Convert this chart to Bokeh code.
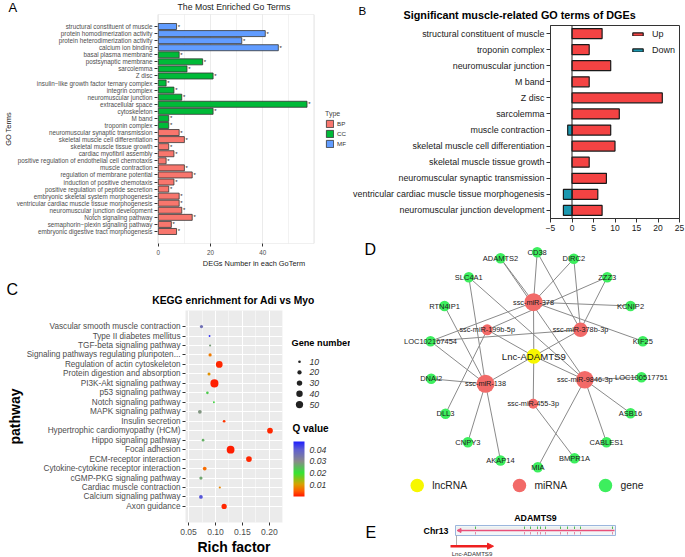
import numpy as np
from bokeh.plotting import figure
from bokeh.models import (ColumnDataSource, FactorRange, Range1d, Legend, LegendItem,
                          ColorBar, LinearColorMapper, FixedTicker, Span, Arrow, NormalHead,
                          PrintfTickFormatter, BoxAnnotation)
from bokeh.layouts import row, column
from bokeh.core.properties import value
from bokeh.embed import file_html
from bokeh.resources import INLINE

FONT = "Liberation Sans"

# ---------------- Panel A data ----------------
go_terms = [
    "structural constituent of muscle", "protein homodimerization activity",
    "protein heterodimerization activity", "calcium ion binding", "basal plasma membrane",
    "postsynaptic membrane", "sarcolemma", "Z disc",
    "insulin\u2212like growth factor ternary complex", "integrin complex",
    "neuromuscular junction", "extracellular space", "cytoskeleton", "M band",
    "troponin complex", "neuromuscular synaptic transmission",
    "skeletal muscle cell differentiation", "skeletal muscle tissue growth",
    "cardiac myofibril assembly", "positive regulation of endothelial cell chemotaxis",
    "muscle contraction", "regulation of membrane potential",
    "induction of positive chemotaxis", "positive regulation of peptide secretion",
    "embryonic skeletal system morphogenesis",
    "ventricular cardiac muscle tissue morphogenesis",
    "neuromuscular junction development", "Notch signaling pathway",
    "semaphorin\u2212plexin signaling pathway", "embryonic digestive tract morphogenesis"]
go_counts = [7, 41, 32, 46, 8, 17, 11, 21, 3, 6, 9, 57, 21, 4, 4,
             8, 10, 4, 6, 3, 10, 13, 6, 4, 8, 8, 9, 13, 5, 7]
go_types = ["MF", "MF", "MF", "MF",
            "CC", "CC", "CC", "CC", "CC", "CC", "CC", "CC", "CC", "CC", "CC",
            "BP", "BP", "BP", "BP", "BP", "BP", "BP", "BP", "BP", "BP", "BP", "BP", "BP", "BP", "BP"]
type_order = ["BP", "CC", "MF"]
type_colors = ["#F8766D", "#00BA38", "#619CFF"]
a_ticks = [0, 20, 40]

# ---------------- Panel B data ----------------
b_terms = ["structural constituent of muscle", "troponin complex", "neuromuscular junction",
           "M band", "Z disc", "sarcolemma", "muscle contraction",
           "skeletal muscle cell differentiation", "skeletal muscle tissue growth",
           "neuromuscular synaptic transmission",
           "ventricular cardiac muscle tissue morphogenesis",
           "neuromuscular junction development"]
b_up = [7, 4, 9, 4, 21, 11, 9, 10, 4, 8, 6, 7]
b_down = [0, 0, 0, 0, 0, 0, -1, 0, 0, 0, -2, -2]
b_ticks = [-5, 0, 5, 10, 15, 20, 25]

# ---------------- Panel C data ----------------
kegg_paths = ["Vascular smooth muscle contraction", "Type II diabetes mellitus",
              "TGF-beta signaling pathway", "Signaling pathways regulating pluripoten...",
              "Regulation of actin cytoskeleton", "Protein digestion and absorption",
              "PI3K-Akt signaling pathway", "p53 signaling pathway", "Notch signaling pathway",
              "MAPK signaling pathway", "Insulin secretion",
              "Hypertrophic cardiomyopathy (HCM)", "Hippo signaling pathway", "Focal adhesion",
              "ECM-receptor interaction", "Cytokine-cytokine receptor interaction",
              "cGMP-PKG signaling pathway", "Cardiac muscle contraction",
              "Calcium signaling pathway", "Axon guidance"]
kegg_rich = [0.074, 0.089, 0.090, 0.090, 0.107, 0.088, 0.098, 0.085, 0.097, 0.071,
             0.116, 0.201, 0.077, 0.128, 0.162, 0.080, 0.073, 0.108, 0.073, 0.116]
kegg_genes = [13, 7, 8, 13, 43, 12, 60, 10, 7, 16, 10, 32, 10, 57, 32, 16, 13, 8, 16, 28]
kegg_q = [0.036, 0.045, 0.028, 0.007, 0.001, 0.009, 0.0005, 0.023, 0.022, 0.029,
          0.002, 0.001, 0.026, 0.0003, 0.001, 0.006, 0.027, 0.008, 0.041, 0.001]
gene_legend = [10, 20, 30, 40, 50]
q_ticks = [0.01, 0.02, 0.03, 0.04]
rich_ticks = [0.05, 0.10, 0.15, 0.20]

# ---------------- Panel D data ----------------
node_names = ["ADAMTS2", "CD38", "DIRC2", "SLC4A1", "ZZZ3", "RTN4IP1", "KCNIP2",
              "LOC102167454", "KIF25", "DNAI2", "LOC100517751", "DLL3", "ASB16",
              "CNPY3", "CABLES1", "AKAP14", "BMPR1A", "MIA",
              "ssc-miR-378", "ssc-miR-199b-5p", "ssc-miR-378b-3p", "ssc-miR-138",
              "ssc-miR-9846-3p", "ssc-miR-455-3p", "Lnc-ADAMTS9"]
node_types = ["gene"] * 18 + ["miRNA"] * 6 + ["lncRNA"]
node_x = [500, 536.7, 573.3, 468.3, 606.7, 444, 630, 430, 642.3, 430.7, 641, 445, 630,
          467.3, 606, 500, 574, 537.3,
          533, 486.7, 580, 485, 584.3, 532.7, 533.3]
node_y = [257.7, 251.7, 258.3, 276.7, 276.7, 305.5, 305.5, 340.7, 340.7, 378.3, 376.7,
          413.3, 412.7, 441.7, 441.7, 460, 457.7, 466.7,
          301.7, 329.3, 329.3, 383.3, 379.3, 403.3, 355.7]
node_weight = [10.5] * 18 + [18, 11, 14.5, 18, 17.5, 10, 15]
edge_from = ["Lnc-ADAMTS9"] * 6 + ["ssc-miR-378"] * 6 + ["ssc-miR-378b-3p"] * 4 + \
            ["ssc-miR-199b-5p"] * 2 + ["ssc-miR-138"] * 6 + ["ssc-miR-9846-3p"] * 6 + \
            ["ssc-miR-455-3p"]
edge_to = ["ssc-miR-378", "ssc-miR-199b-5p", "ssc-miR-378b-3p", "ssc-miR-138",
           "ssc-miR-9846-3p", "ssc-miR-455-3p",
           "ADAMTS2", "CD38", "DIRC2", "KCNIP2", "KIF25", "LOC102167454",
           "CD38", "DIRC2", "ZZZ3", "LOC102167454",
           "ZZZ3", "DLL3",
           "SLC4A1", "RTN4IP1", "LOC102167454", "DNAI2", "CNPY3", "AKAP14",
           "ADAMTS2", "SLC4A1", "LOC100517751", "ASB16", "CABLES1", "MIA",
           "BMPR1A"]
net_types = ["lncRNA", "miRNA", "gene"]
net_colors = ["#F7F700", "#F26A68", "#3DEE5E"]

# ---------------- Panel E data ----------------
gene_start, gene_end = 0, 160
exon_pos = [20, 69, 75, 82, 85, 90, 105, 112, 119, 125, 157]
lnc_start, lnc_end = -5, 38


def blank_fig(w, h, xr, yr):
    p = figure(width=w, height=h, output_backend="svg", toolbar_location=None,
               x_range=Range1d(*xr), y_range=Range1d(*yr),
               x_axis_location=None, y_axis_location=None, min_border=0)
    p.grid.visible = False
    p.outline_line_color = None
    return p


def put_text(p, x, y, t, size, style="normal", align="left", baseline="middle",
             color="#1a1a1a"):
    p.text(x=[x], y=[y], text=[t], text_font=value(FONT), text_font_size=size,
           text_font_style=style, text_align=align, text_baseline=baseline,
           text_color=color)


def style_axis(ax, label_size, label_color="#4D4D4D"):
    ax.major_label_text_font = FONT
    ax.major_label_text_font_size = label_size
    ax.major_label_text_color = label_color
    ax.axis_label_text_font = FONT
    ax.axis_label_text_font_style = "normal"
    ax.minor_tick_line_color = None
    ax.major_tick_in = 0


# ================= Panel A =================
hA = blank_fig(350, 14, (0, 350), (14, 0))
put_text(hA, 8, 14, "A", "13px", baseline="bottom", color="#000000")
put_text(hA, 233.5, 6.5, "The Most Enriched Go Terms", "8.7px", align="center")

srcA = ColumnDataSource(dict(term=go_terms, count=go_counts, type=go_types,
                             color=[type_colors[type_order.index(t)] for t in go_types]))
a_data_end = 59.7
pA = figure(width=350, height=262, output_backend="svg", toolbar_location=None,
            y_range=FactorRange(factors=go_terms[::-1], range_padding=1.2,
                                range_padding_units="absolute"),
            x_range=Range1d(-0.3, 73.66),
            min_border_left=154, min_border_right=0, min_border_top=0, min_border_bottom=33)
rA = pA.hbar(y="term", left=0, right="count", height=0.85, fill_color="color",
             line_color="#333333", line_width=0.8, source=srcA)
pA.text(x="count", y="term", text=value("*"), x_offset=1.2, text_font=value(FONT),
        text_font_size="6px", text_baseline="middle", text_align="left",
        text_color="#222222", source=srcA)
pA.xaxis.ticker = FixedTicker(ticks=a_ticks, minor_ticks=[10, 30, 50])
pA.xaxis.bounds = (-0.3, a_data_end)
pA.xaxis.axis_label = "DEGs Number in each GoTerm"
pA.yaxis.axis_label = "GO Terms"
for ax in (pA.xaxis[0], pA.yaxis[0]):
    style_axis(ax, "6.3px")
    ax.axis_line_color = None
    ax.major_tick_line_color = "#333333"
    ax.major_tick_out = 3
    ax.major_label_standoff = 2
    ax.axis_label_standoff = 1
    ax.axis_label_text_font_size = "7.4px"
    ax.axis_label_text_color = "#1a1a1a"
pA.xgrid.grid_line_color = "#EBEBEB"
pA.xgrid.minor_grid_line_color = "#F2F2F2"
pA.ygrid.visible = False
pA.outline_line_color = None
pA.add_layout(BoxAnnotation(left=-0.3, right=a_data_end, fill_alpha=0, fill_color=None,
                            line_color="#9A9A9A", line_width=1))
legA = Legend(items=[LegendItem(label=t, renderers=[rA], index=go_types.index(t))
                     for t in type_order],
              location=(168, 95), title="Type", title_text_font=FONT,
              title_text_font_size="7px", title_text_font_style="normal", title_standoff=2,
              label_text_font=FONT, label_text_font_size="6.2px", label_text_color="#333333",
              glyph_width=9, glyph_height=9, label_height=9, spacing=1, padding=0, margin=0,
              label_standoff=3, background_fill_alpha=0, border_line_alpha=0)
pA.add_layout(legA, "center")

# ================= Panel C =================
hC = blank_fig(350, 34, (0, 350), (310, 276))
put_text(hC, 6, 289.3, "C", "16px", baseline="alphabetic", color="#000000")
put_text(hC, 233, 300, "KEGG enrichment for Adi vs Myo", "10.3px", style="bold",
         align="center", color="#000000")


def q_gradient(stops, n=256):
    pos = np.array([s[0] for s in stops])
    rgb = np.array([[int(s[1][i:i + 2], 16) for i in (1, 3, 5)] for s in stops], float)
    out = []
    for t in np.linspace(0, 1, n):
        c = [np.interp(t, pos, rgb[:, k]) for k in range(3)]
        out.append("#%02x%02x%02x" % tuple(int(round(v)) for v in c))
    return out


q_palette = q_gradient([(0.0, "#FF1A00"), (0.1, "#FF5E00"), (0.22, "#D9A200"),
                        (0.43, "#33E533"), (0.64, "#8A8A8A"), (0.85, "#6060D0"),
                        (1.0, "#1F1FFF")])
q_mapper = LinearColorMapper(palette=q_palette, low=0.0, high=0.047)


def dot_diam(n):
    return float(np.sqrt(max(1.15 * n - 4.5, 2.0)))


srcC = ColumnDataSource(dict(path=kegg_paths, rich=kegg_rich, q=kegg_q,
                             size=[dot_diam(g) for g in kegg_genes]))
pCp = figure(width=290, height=247, output_backend="svg", toolbar_location=None,
             y_range=FactorRange(factors=kegg_paths[::-1], range_padding=1.2,
                                 range_padding_units="absolute"),
             x_range=Range1d(0.0444, 0.2242),
             min_border_left=185, min_border_right=8, min_border_top=0, min_border_bottom=33,
             background_fill_color="#EBEBEB")
pCp.scatter(x="rich", y="path", size="size", fill_color={"field": "q", "transform": q_mapper},
            line_color=None, source=srcC)
pCp.xaxis.ticker = FixedTicker(ticks=rich_ticks, minor_ticks=[0.075, 0.125, 0.175, 0.225])
pCp.xaxis.formatter = PrintfTickFormatter(format="%.2f")
pCp.xaxis.axis_label = "Rich factor"
pCp.yaxis.axis_label = "pathway"
for ax, sz in ((pCp.xaxis[0], "8.6px"), (pCp.yaxis[0], "8.2px")):
    style_axis(ax, sz)
    ax.axis_line_color = None
    ax.major_tick_line_color = "#333333"
    ax.major_tick_out = 3
    ax.major_label_standoff = 2
    ax.axis_label_standoff = 1
    ax.axis_label_text_font_size = "14px"
    ax.axis_label_text_font_style = "bold"
    ax.axis_label_text_color = "#000000"
pCp.grid.grid_line_color = "white"
pCp.xgrid.minor_grid_line_color = "white"
pCp.xgrid.minor_grid_line_width = 0.5
pCp.outline_line_color = None

pCl = figure(width=60, height=247, output_backend="svg", toolbar_location=None,
             x_range=Range1d(290, 350), y_range=Range1d(524, 310),
             x_axis_location=None, y_axis_location=None,
             min_border_left=0, min_border_right=0, min_border_top=0, min_border_bottom=33)
pCl.grid.visible = False
pCl.outline_line_color = None
put_text(pCl, 291, 342.5, "Gene number", "9.2px", style="bold", color="#000000")
leg_y = [361.7 + 10.8 * i for i in range(len(gene_legend))]
pCl.scatter(x=[299] * len(gene_legend), y=leg_y, size=[dot_diam(n) for n in gene_legend],
            fill_color="#222222", line_color=None)
pCl.text(x=[309] * len(gene_legend), y=leg_y, text=[str(n) for n in gene_legend],
         text_font=value(FONT), text_font_size="8.7px", text_font_style="italic",
         text_baseline="middle", text_color="#333333")
put_text(pCl, 292, 429, "Q value", "10px", style="bold", color="#000000")
cb = ColorBar(color_mapper=q_mapper, ticker=FixedTicker(ticks=q_ticks),
              formatter=PrintfTickFormatter(format="%.2f"), width=11, height=55,
              location=(3, 26), padding=0,
              major_label_text_font=FONT, major_label_text_font_size="8.6px",
              major_label_text_font_style="italic", major_label_text_color="#333333",
              major_tick_line_color=None, minor_tick_line_color=None, bar_line_color=None,
              label_standoff=5, background_fill_alpha=0, border_line_color=None)
pCl.add_layout(cb, "center")

# ================= Panel B =================
hB = blank_fig(335, 25, (350, 685), (25, 0))
put_text(hB, 358, 10.4, "B", "11.6px", baseline="alphabetic", color="#000000")
put_text(hB, 403, 14, "Significant muscle-related GO terms of DGEs", "10.8px", style="bold",
         color="#000000")

pB = figure(width=335, height=211, output_backend="svg", toolbar_location=None,
            y_range=FactorRange(factors=b_terms[::-1]), x_range=Range1d(-5, 25),
            min_border_left=200, min_border_right=6, min_border_top=0, min_border_bottom=18)
r_up = pB.hbar(y=b_terms, left=0, right=b_up, height=0.62, fill_color="#F44343",
               line_color="#1a1a1a", line_width=1.2)
down_terms = [t for t, d in zip(b_terms, b_down) if d != 0]
down_vals = [d for d in b_down if d != 0]
r_dn = pB.hbar(y=down_terms, left=0, right=down_vals, height=0.62, fill_color="#1B98B0",
               line_color="#1a1a1a", line_width=1.2)
pB.add_layout(Span(location=0, dimension="height", line_color="#222222", line_width=1))
pB.xaxis.ticker = FixedTicker(ticks=b_ticks)
for ax, sz in ((pB.xaxis[0], "8.5px"), (pB.yaxis[0], "8.9px")):
    style_axis(ax, sz, "#1a1a1a")
    ax.axis_line_color = "#333333"
    ax.major_tick_line_color = "#333333"
    ax.major_tick_out = 4
    ax.major_label_standoff = 2
pB.grid.visible = False
pB.outline_line_color = "#333333"
legB = Legend(items=[LegendItem(label="Up", renderers=[r_up]),
                     LegendItem(label="Down", renderers=[r_dn])],
              location=(81, 162), label_text_font=FONT, label_text_font_size="9px",
              label_text_color="#1a1a1a", glyph_width=13, glyph_height=4, label_height=12,
              spacing=4, padding=0, margin=0, label_standoff=8,
              background_fill_alpha=0, border_line_alpha=0)
pB.add_layout(legB, "center")

# ================= Panel D =================
idx = {n: i for i, n in enumerate(node_names)}
pD = blank_fig(335, 269, (350, 685), (505, 236))
pD.segment(x0=[node_x[idx[a]] for a in edge_from], y0=[node_y[idx[a]] for a in edge_from],
           x1=[node_x[idx[b]] for b in edge_to], y1=[node_y[idx[b]] for b in edge_to],
           line_color="#8A8A8A", line_width=1)
srcD = ColumnDataSource(dict(x=node_x, y=node_y, name=node_names, size=node_weight,
                             color=[net_colors[net_types.index(t)] for t in node_types],
                             fs=[{"gene": "7.5px", "miRNA": "7.3px", "lncRNA": "9.6px"}[t]
                                 for t in node_types]))
pD.scatter(x="x", y="y", size="size", fill_color="color", line_color=None, source=srcD)
pD.text(x="x", y="y", text="name", text_font=value(FONT), text_font_size="fs",
        text_align="center", text_baseline="middle", text_color="#1a1a1a", source=srcD)
leg_x = [416.7, 519, 605]
pD.scatter(x=leg_x, y=[485] * 3, size=13.5, fill_color=net_colors, line_color=None)
pD.text(x=[v + 15 for v in leg_x], y=[485] * 3, text=net_types, text_font=value(FONT),
        text_font_size="10.3px", text_align="left", text_baseline="middle",
        text_color="#1a1a1a")
put_text(pD, 364, 248.5, "D", "16px", baseline="alphabetic", color="#000000")

# ================= Panel E =================
pE = blank_fig(335, 52, (-105, 230), (52, 0))
pE.quad(left=[gene_start], right=[gene_end], top=[20], bottom=[30],
        fill_color="#F2F6F8", line_color="#9BB6DD", line_width=1)
pE.segment(x0=[gene_start + 1], y0=[22.5], x1=[gene_end - 1], y1=[22.5],
           line_color="#DCE6DC", line_width=0.6)
pE.segment(x0=exon_pos, y0=[21] * len(exon_pos), x1=exon_pos, y1=[23.5] * len(exon_pos),
           line_color="#55BB55", line_width=1)
pE.segment(x0=exon_pos, y0=[26.5] * len(exon_pos), x1=exon_pos, y1=[29] * len(exon_pos),
           line_color="#E07090", line_width=0.8)
pE.add_layout(Arrow(end=NormalHead(size=4, fill_color="#E8507A", line_color="#E8507A"),
                    x_start=gene_end - 1, y_start=25, x_end=gene_start + 1.5, y_end=25,
                    line_color="#E8507A", line_width=1.5))
pE.segment(x0=[gene_start + 1], y0=[30], x1=[gene_start + 1], y1=[40.5],
           line_color="#999999", line_width=0.8)
pE.add_layout(Arrow(end=NormalHead(size=6, fill_color="#EE2020", line_color="#EE2020"),
                    x_start=lnc_start, y_start=40.7, x_end=lnc_end, y_end=40.7,
                    line_color="#EE2020", line_width=2.5))
put_text(pE, (lnc_start + lnc_end) / 2, 47.5, "Lnc-ADAMTS9", "6.1px", align="center",
         color="#333333")
put_text(pE, (gene_start + gene_end) / 2, 12, "ADAMTS9", "8.8px", style="bold",
         align="center", color="#000000")
put_text(pE, gene_start - 7, 25, "Chr13", "8.8px", style="bold", align="right",
         color="#000000")
put_text(pE, -90, 27, "E", "16px", baseline="alphabetic", color="#000000")

left = column(row(hA), row(pA), row(hC), row(pCp, pCl))
right = column(row(hB), row(pB), row(pD), row(pE))
layout = row(left, right)
open("out.html", "w").write(file_html(layout, INLINE))
